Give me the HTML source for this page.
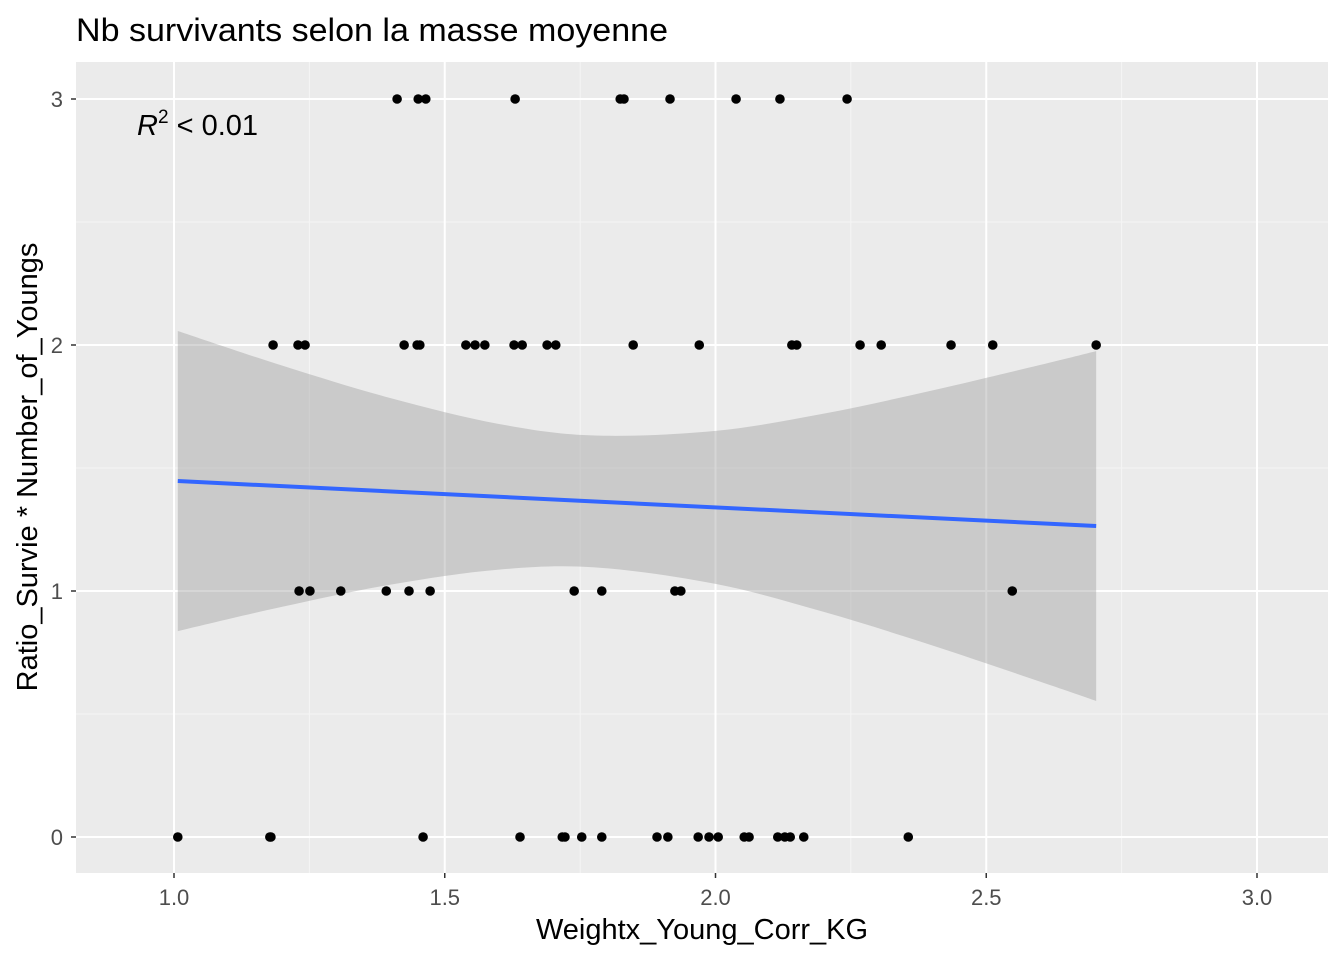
<!DOCTYPE html>
<html><head><meta charset="utf-8"><style>
body{margin:0;background:#fff;}
svg{display:block;font-family:"Liberation Sans",Arial,sans-serif;}
</style></head><body>
<svg id="chart" width="1344" height="960">
<text x="76" y="41" font-size="32" textLength="592" lengthAdjust="spacingAndGlyphs" fill="#000">Nb survivants selon la masse moyenne</text>
<rect x="76" y="62" width="1252" height="811" fill="#EBEBEB"/>
<g id="grid"></g>
<g id="band"></g>
<g id="pts"></g>
<g id="axes"></g>
<text x="137" y="135" font-size="29" fill="#000"><tspan font-style="italic">R</tspan><tspan dy="-12" font-size="19">2</tspan><tspan dy="12"> &lt; 0.01</tspan></text>
<text x="702" y="939" font-size="29" text-anchor="middle" fill="#000">Weightx_Young_Corr_KG</text>
<text transform="translate(37,467) rotate(-90)" font-size="29" text-anchor="middle" fill="#000">Ratio_Survie * Number_of_Youngs</text>
</svg>
<script>
const xTicks=[1.0,1.5,2.0,2.5,3.0];
const xTickLabels=["1.0","1.5","2.0","2.5","3.0"];
const yTicks=[0,1,2,3];
const yTickLabels=["0","1","2","3"];
const xMinor=[1.25,1.75,2.25,2.75];
const yMinor=[0.5,1.5,2.5];
const x3=[1.412,1.451,1.465,1.630,1.824,1.831,1.916,2.038,2.119,2.243];
const x2=[1.183,1.229,1.242,1.425,1.449,1.454,1.539,1.556,1.574,1.628,1.643,1.689,1.705,1.848,1.970,2.141,2.150,2.267,2.306,2.435,2.512,2.703];
const x1=[1.231,1.251,1.308,1.392,1.434,1.473,1.739,1.790,1.925,1.936,2.548];
const x0=[1.007,1.177,1.179,1.460,1.639,1.717,1.722,1.753,1.790,1.892,1.912,1.968,1.988,2.005,2.053,2.062,2.115,2.128,2.138,2.163,2.356];
const yLevels=[3,2,1,0];
const fitX=[1.007,2.703];
const fitY=[1.447,1.264];
const bandX=[1.007,1.2,1.4,1.6,1.777,2.0,2.2,2.4,2.6,2.703];
const bandUpper=[2.057,1.916,1.784,1.679,1.632,1.651,1.721,1.815,1.919,1.975];
const bandLower=[0.837,0.936,1.026,1.087,1.096,1.029,0.915,0.779,0.631,0.553];

const NS="http://www.w3.org/2000/svg";
const X=v=>174+(v-1)*541.5;
const Y=v=>837-v*246;
function mk(tag,attrs,parent){const e=document.createElementNS(NS,tag);for(const k in attrs)e.setAttribute(k,attrs[k]);document.getElementById(parent).appendChild(e);return e;}
xMinor.forEach(v=>{const e=mk('line',{x1:X(v),x2:X(v),y1:62,y2:873,stroke:'#F5F5F5','stroke-width':1},'grid');

});
yMinor.forEach(v=>{const e=mk('line',{x1:76,x2:1328,y1:Y(v),y2:Y(v),stroke:'#F5F5F5','stroke-width':1},'grid');

});
xTicks.forEach((v,i)=>{const e=mk('line',{x1:X(v),x2:X(v),y1:62,y2:873,stroke:'#fff','stroke-width':2},'grid');


const t=mk('line',{x1:X(v),x2:X(v),y1:873,y2:878,stroke:'#333','stroke-width':1.5},'axes');


const l=mk('text',{x:X(v),y:905,'font-size':22,'text-anchor':'middle',fill:'#4D4D4D'},'axes');l.textContent=xTickLabels[i];

});
yTicks.forEach((v,i)=>{const e=mk('line',{x1:76,x2:1328,y1:Y(v),y2:Y(v),stroke:'#fff','stroke-width':2},'grid');


const t=mk('line',{x1:71,x2:76,y1:Y(v),y2:Y(v),stroke:'#333','stroke-width':1.5},'axes');


const l=mk('text',{x:63,y:Y(v)+8,'font-size':22,'text-anchor':'end',fill:'#4D4D4D'},'axes');l.textContent=yTickLabels[i];

});
function smooth(pts){let d='';for(let i=0;i<pts.length-1;i++){const p0=pts[Math.max(0,i-1)],p1=pts[i],p2=pts[i+1],p3=pts[Math.min(pts.length-1,i+2)];
const c1=[p1[0]+(p2[0]-p0[0])/6,p1[1]+(p2[1]-p0[1])/6],c2=[p2[0]-(p3[0]-p1[0])/6,p2[1]-(p3[1]-p1[1])/6];
d+=` C${c1[0]},${c1[1]} ${c2[0]},${c2[1]} ${p2[0]},${p2[1]}`;}return d;}
const up=bandX.map((x,i)=>[X(x),Y(bandUpper[i])]);
const lo=bandX.map((x,i)=>[X(x),Y(bandLower[i])]).reverse();
const dPath='M'+up[0][0]+','+up[0][1]+smooth(up)+' L'+lo[0][0]+','+lo[0][1]+smooth(lo)+' Z';
const band=mk('path',{d:dPath,fill:'#999','fill-opacity':0.4},'band');


const ln=mk('line',{x1:X(fitX[0]),y1:Y(fitY[0]),x2:X(fitX[1]),y2:Y(fitY[1]),stroke:'#3366FF','stroke-width':4},'band');


[x3,x2,x1,x0].forEach((arr,k)=>arr.forEach(v=>{const c=mk('circle',{cx:X(v),cy:Y(yLevels[k]),r:4.8,fill:'#000'},'pts');

}));
</script>
</body></html>
